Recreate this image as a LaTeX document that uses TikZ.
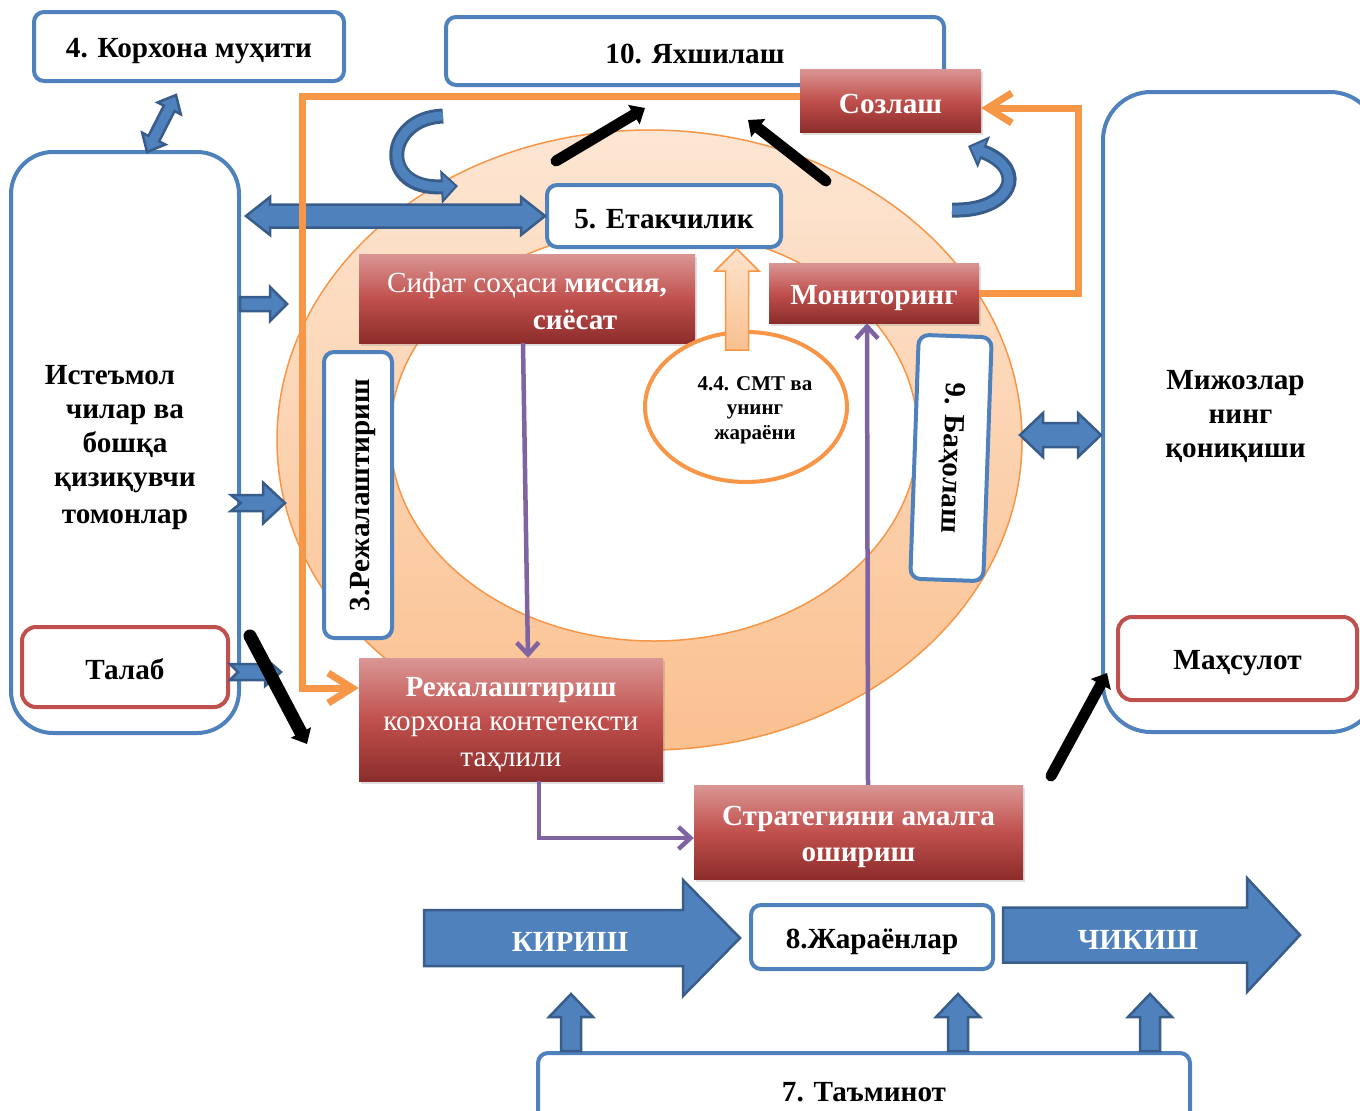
\documentclass[tikz,border=0pt]{standalone}
\usepackage{fontspec}
\setmainfont{Liberation Serif}
\usetikzlibrary{calc,arrows.meta,shadows,shapes.geometric}

\definecolor{bfill}{HTML}{4F81BD}
\definecolor{bdark}{HTML}{385D8A}
\definecolor{rtop}{HTML}{DA9694}
\definecolor{rmid}{HTML}{C0504D}
\definecolor{rbot}{HTML}{8C2D2B}
\definecolor{redline}{HTML}{C0504D}
\definecolor{orng}{HTML}{F79646}
\definecolor{peachtop}{HTML}{FDE6D3}
\definecolor{peachbot}{HTML}{FAC08F}
\definecolor{otop}{HTML}{FDE3CC}
\definecolor{obot}{HTML}{FAC090}
\definecolor{purp}{HTML}{8064A2}

\newcommand\fs{\fontsize{29.2}{34}\selectfont}
\newcommand\fss{\fontsize{21}{24.5}\selectfont}
% invisible strut that evens out the vertical placement of box labels
\newcommand\bxs{\rule[-4pt]{0pt}{33pt}}

\tikzset{
  bluebox/.style={draw=bfill, line width=4pt, rounded corners=10pt, fill=white,
    font=\fs\bfseries, align=center, inner sep=0pt},
  redframe/.style={draw=redline, line width=4pt, rounded corners=14pt, fill=white,
    font=\fs\bfseries, align=center, inner sep=0pt},
  redbox/.style={top color=rtop, bottom color=rbot, middle color=rmid, text=white,
    font=\fs, align=center, inner sep=0pt,
    drop shadow={opacity=0.25, shadow xshift=2pt, shadow yshift=-3pt}},
  blockarr/.style={fill=bfill, draw=bdark, line width=2.5pt, line join=miter},
  orangeln/.style={draw=orng, line width=7pt, -{Straight Barb[length=24pt,width=30pt]}},
  purpleln/.style={draw=purp, line width=4.5pt, -{Straight Barb[length=12pt,width=22pt]}},
  blackarr/.style={draw=black, line width=11pt, line cap=round,
    -{Triangle[length=13pt,width=22pt]}},
  curveout/.style={draw=bdark, line width=15pt, -{Triangle[length=17pt,width=33pt]}},
  curvein/.style={draw=bfill, line width=9pt, shorten >=3pt, -{Triangle[length=12pt,width=23pt]}},
}

% single block arrow: [opts]{from}{to}{half shaft}{half head}{head length}
\newcommand\barrow[6][]{%
  \coordinate (bah) at ($(#3)!#6!(#2)$);
  \filldraw[blockarr,#1] ($(#2)!#4!90:(#3)$) -- ($(bah)!#4!90:(#3)$)
    -- ($(bah)!#5!90:(#3)$) -- (#3) -- ($(bah)!#5!-90:(#3)$)
    -- ($(bah)!#4!-90:(#3)$) -- ($(#2)!#4!-90:(#3)$) -- cycle;}
% notched block arrow: [opts]{from}{to}{half shaft}{half head}{head length}{notch}
\newcommand\narrow[7][]{%
  \coordinate (bah) at ($(#3)!#6!(#2)$);
  \filldraw[blockarr,#1] ($(#2)!#4!90:(#3)$) -- ($(bah)!#4!90:(#3)$)
    -- ($(bah)!#5!90:(#3)$) -- (#3) -- ($(bah)!#5!-90:(#3)$)
    -- ($(bah)!#4!-90:(#3)$) -- ($(#2)!#4!-90:(#3)$) -- ($(#2)!#7!(#3)$) -- cycle;}
% double block arrow: [opts]{end a}{end b}{half shaft}{half head}{head length}
\newcommand\dbarrow[6][]{%
  \coordinate (bah1) at ($(#2)!#6!(#3)$);
  \coordinate (bah2) at ($(#3)!#6!(#2)$);
  \filldraw[blockarr,#1] (#2) -- ($(bah1)!#5!90:(#3)$) -- ($(bah1)!#4!90:(#3)$)
    -- ($(bah2)!#4!90:(#3)$) -- ($(bah2)!#5!90:(#3)$) -- (#3)
    -- ($(bah2)!#5!-90:(#3)$) -- ($(bah2)!#4!-90:(#3)$)
    -- ($(bah1)!#4!-90:(#3)$) -- ($(bah1)!#5!-90:(#3)$) -- cycle;}

\begin{document}
\begin{tikzpicture}[x=1pt,y=-1pt]
\useasboundingbox (0,0) rectangle (1360,1111);
\clip (0,0) rectangle (1360,1111);

% the quality ring
\path[top color=peachtop, bottom color=peachbot, draw=orng, line width=1.5pt]
  (649.5,440) ellipse [x radius=372.5pt, y radius=310pt];
\path[fill=white, draw=orng, line width=1.5pt]
  (654,435) ellipse [x radius=264pt, y radius=206pt];

% boxes
\node[bluebox, minimum width=310pt, minimum height=69pt] (env) at (189,46.5) {\bxs 4. Корхона муҳити};
\node[bluebox, minimum width=498pt, minimum height=68pt] (impr) at (695,51) {\bxs 10. Яхшилаш};
\node[redbox, font=\fs\bfseries, minimum width=181pt, minimum height=63pt] (soz) at (890.5,100.5) {\bxs Созлаш};
\node[bluebox, minimum width=234pt, minimum height=62pt] (lead) at (664,216) {\bxs 5. Етакчилик};
\node[bluebox, rounded corners=42pt, minimum width=228pt, minimum height=581pt] (users) at (125,442.5)
  {\bxs Истеъмол\hspace*{30pt}\\чилар ва\\бошқа\\қизиқувчи\\томонлар\bxs};
\node[redframe, minimum width=206pt, minimum height=80pt] (dem) at (125,667) {\bxs Талаб};
\node[redbox, minimum width=336pt, minimum height=89pt] (sif) at (527,298.5)
  {\bxs Сифат соҳаси \textbf{миссия,}\\\hspace*{96pt}\textbf{сиёсат}\bxs};
\node[bluebox, rotate=90, minimum width=286pt, minimum height=68pt] (plan) at (358,495) {\bxs 3.Режалаштириш};
\node[redbox, font=\fs\bfseries, minimum width=210pt, minimum height=60pt] (mon) at (874,293) {\bxs Мониторинг};
\node[ellipse, draw=orng, line width=4pt, fill=white, minimum width=202pt, minimum height=150pt] (smt) at (746,407) {};
\node[font=\fss\bfseries, align=center] (smttxt) at (755,410) {4.4. СМТ ва\\унинг\\жараёни};
\node[bluebox, rotate=-92, minimum width=244pt, minimum height=73pt] (eval) at (951,458) {9. Баҳолаш};
\node[bluebox, rounded corners=48pt, minimum width=275pt, minimum height=640pt] (cust) at (1240.5,412)
  {\bxs Мижозлар\hspace*{10pt}\\нинг\hspace*{10pt}\\қониқиши\hspace*{10pt}\bxs};
\node[redframe, minimum width=239pt, minimum height=83pt] (prod) at (1237.5,658.5) {\bxs Маҳсулот};
\node[redbox, minimum width=304pt, minimum height=123pt] (rplan) at (511,719.5)
  {\bxs\textbf{Режалаштириш}\\корхона контетексти\\таҳлили\bxs};
\node[redbox, font=\fs\bfseries, minimum width=329pt, minimum height=94pt] (strat) at (858.5,832)
  {\bxs Стратегияни амалга\\ошириш\bxs};
\node[bluebox, minimum width=242pt, minimum height=64pt] (proc) at (872,937) {\bxs 8.Жараёнлар};
\node[bluebox, minimum width=652pt, minimum height=72pt] (supply) at (864,1089) {\bxs 7. Таъминот};

% blue block arrows
\path (users.east |- lead.west) ++(5,0) coordinate (ua);
\dbarrow{ua}{lead.west}{11.5pt}{19pt}{24pt}
\coordinate (e1) at (176,95);
\coordinate (e2) at (147,152);
\dbarrow{e1}{e2}{6pt}{13pt}{15pt}
\coordinate (la1) at (240,304);
\coordinate (lb1) at (287,304);
\barrow{la1}{lb1}{7pt}{17pt}{17pt}
\coordinate (la2) at (231,503);
\coordinate (lb2) at (285,503);
\narrow{la2}{lb2}{8pt}{20.5pt}{22pt}{10pt}
\coordinate (la3) at (230,672);
\coordinate (lb3) at (281,672);
\narrow{la3}{lb3}{8pt}{14pt}{16pt}{8pt}
\coordinate (rd1) at (1020,435);
\coordinate (rd2) at (cust.west |- rd1);
\dbarrow{rd1}{rd2}{12pt}{22pt}{23pt}

% light orange arrow from the ellipse up to leadership
\path (smt.north) ++(-9,20) coordinate (oa1);
\coordinate (oa2) at (oa1 |- lead.south);
\barrow[top color=otop, bottom color=obot, draw=orng, line width=1.5pt]{oa1}{oa2}{11.5pt}{22pt}{22pt}

% input / output arrows
\coordinate (kir1) at (424,938);
\coordinate (kir2) at (740,938);
\barrow{kir1}{kir2}{28pt}{58pt}{57pt}
\node[font=\fs\bfseries, text=white] (kirt) at (570,942) {КИРИШ};
\coordinate (chk1) at (1003,935);
\coordinate (chk2) at (1300,935);
\barrow{chk1}{chk2}{27.5pt}{57pt}{53pt}
\node[font=\fs\bfseries, text=white] (chkt) at (1138,940) {ЧИКИШ};
\path (supply.north -| 571,0) coordinate (up1a) ++(0,-57) coordinate (up1b);
\path (supply.north -| 958,0) coordinate (up2a) ++(0,-57) coordinate (up2b);
\path (supply.north -| 1150,0) coordinate (up3a) ++(0,-57) coordinate (up3b);
\barrow{up1a}{up1b}{10pt}{22pt}{23pt}
\barrow{up2a}{up2b}{10pt}{22pt}{23pt}
\barrow{up3a}{up3b}{10pt}{22pt}{23pt}

% orange feedback lines
\draw[orangeln] ([yshift=4.5pt]soz.west) -- (302,96) -- (302,688) -- ([yshift=31.5pt]rplan.west);
\draw[orangeln] (mon.east) -- (1078,293) -- (1078,108) -- ([yshift=-7.5pt]soz.east);

% purple flow
\draw[purpleln] ([xshift=-4pt]sif.south) -- ([xshift=17pt]rplan.north);
\draw[purpleln] ([xshift=28pt]rplan.south) |- ([yshift=-6pt]strat.west);
\draw[purpleln] ([xshift=9.5pt]strat.north) -- ([xshift=-7pt]mon.south);

% curved turning arrows
\coordinate (cv1a) at (443,116);
\coordinate (cv1b) at (458,186);
\draw[curveout] (cv1a) .. controls (385,118) and (378,190) .. (cv1b);
\draw[curvein] (cv1a) .. controls (385,118) and (378,190) .. (cv1b);
\coordinate (cv2a) at (952,210);
\coordinate (cv2b) at (968,146);
\draw[curveout] (cv2a) .. controls (1010,212) and (1030,170) .. (cv2b);
\draw[curvein] (cv2a) .. controls (1010,212) and (1030,170) .. (cv2b);

% black arrows
\coordinate (bk1a) at (556,161);
\coordinate (bk1b) at (645,108);
\draw[blackarr] (bk1a) -- (bk1b);
\coordinate (bk2a) at (826,181);
\coordinate (bk2b) at (748,120);
\draw[blackarr] (bk2a) -- (bk2b);
\coordinate (bk3a) at (250,636);
\coordinate (bk3b) at (307,744);
\draw[blackarr, line width=13pt] (bk3a) -- (bk3b);
\coordinate (bk4a) at (1051,776);
\coordinate (bk4b) at (1107,673);
\draw[blackarr] (bk4a) -- (bk4b);
\end{tikzpicture}
\end{document}
